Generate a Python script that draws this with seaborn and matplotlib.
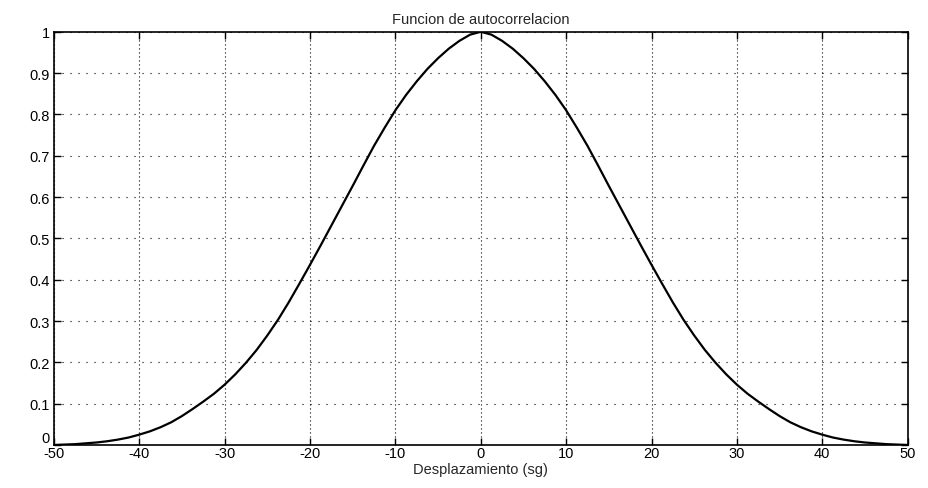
import numpy as np
import pandas as pd
import matplotlib
matplotlib.use("Agg")
import matplotlib.pyplot as plt
import seaborn as sns

# valores (mitad izquierda, la curva es simetrica)
desplazamiento_izq = [-50, -48.75, -47.5, -46.25, -45, -43.75, -42.5, -41.25, -40, -38.75,
                      -37.5, -36.25, -35, -33.75, -32.5, -31.25, -30, -28.75, -27.5, -26.25,
                      -25, -23.75, -22.5, -21.25, -20, -18.75, -17.5, -16.25, -15, -13.75,
                      -12.5, -11.25, -10, -8.75, -7.5, -6.25, -5, -3.75, -2.5, -1.25]
autocorr_izq = [0.0, 0.001, 0.002, 0.004, 0.006, 0.009, 0.013, 0.018, 0.025, 0.033,
                0.043, 0.055, 0.07, 0.087, 0.105, 0.124, 0.146, 0.171, 0.199, 0.23,
                0.265, 0.303, 0.345, 0.39, 0.436, 0.483, 0.531, 0.579, 0.627, 0.676,
                0.724, 0.768, 0.81, 0.847, 0.88, 0.91, 0.936, 0.959, 0.978, 0.993]
pico = 1.0

x_ticks = [-50, -40, -30, -20, -10, 0, 10, 20, 30, 40, 50]
y_ticks = [0, 0.1, 0.2, 0.3, 0.4, 0.5, 0.6, 0.7, 0.8, 0.9, 1]
y_labels = ["0", "0.1", "0.2", "0.3", "0.4", "0.5", "0.6", "0.7", "0.8", "0.9", "1"]

desplazamiento = desplazamiento_izq + [0] + [-v for v in desplazamiento_izq[::-1]]
autocorr = autocorr_izq + [pico] + autocorr_izq[::-1]
df = pd.DataFrame({"desplazamiento": desplazamiento, "autocorr": autocorr})

sns.set_style("ticks")
plt.rcParams['font.family'] = ['Liberation Sans', 'DejaVu Sans']

fig = plt.figure(figsize=(9.29, 4.89), dpi=100)
ax = fig.add_axes([0.058, 0.088, 0.919, 0.845])

sns.lineplot(data=df, x="desplazamiento", y="autocorr", color="black",
             linewidth=1.6, ax=ax, sort=False, estimator=None)

fs = 10.5
ax.set_xlim(-50, 50)
ax.set_ylim(0, 1)
ax.set_xticks(x_ticks)
ax.set_xticklabels([str(t) for t in x_ticks], fontsize=fs)
ax.set_yticks(y_ticks)
ax.set_yticklabels(y_labels, fontsize=fs)
# rejilla punteada: lineas verticales mas densas que las horizontales
ax.xaxis.grid(True, color="black", linestyle=(0, (1, 2.6)), linewidth=0.8)
ax.yaxis.grid(True, color="black", linestyle=(0, (1, 6.2)), linewidth=0.8)
ax.tick_params(direction="in", length=5, width=1, top=True, right=True,
               colors="black")
ax.tick_params(axis="x", pad=1)
ax.tick_params(axis="y", pad=3)
for s in ax.spines.values():
    s.set_linewidth(1.2)
    s.set_color("black")

# el "0" del eje y queda un poco mas arriba, como en la original
ylab0 = ax.get_yticklabels()[0]
ylab0.set_verticalalignment("bottom")

ax.set_title("Funcion de autocorrelacion", fontsize=fs, pad=6)
ax.set_xlabel("Desplazamiento (sg)", fontsize=fs, labelpad=1)
ax.set_ylabel("")

fig.savefig("out.png", dpi=100)
